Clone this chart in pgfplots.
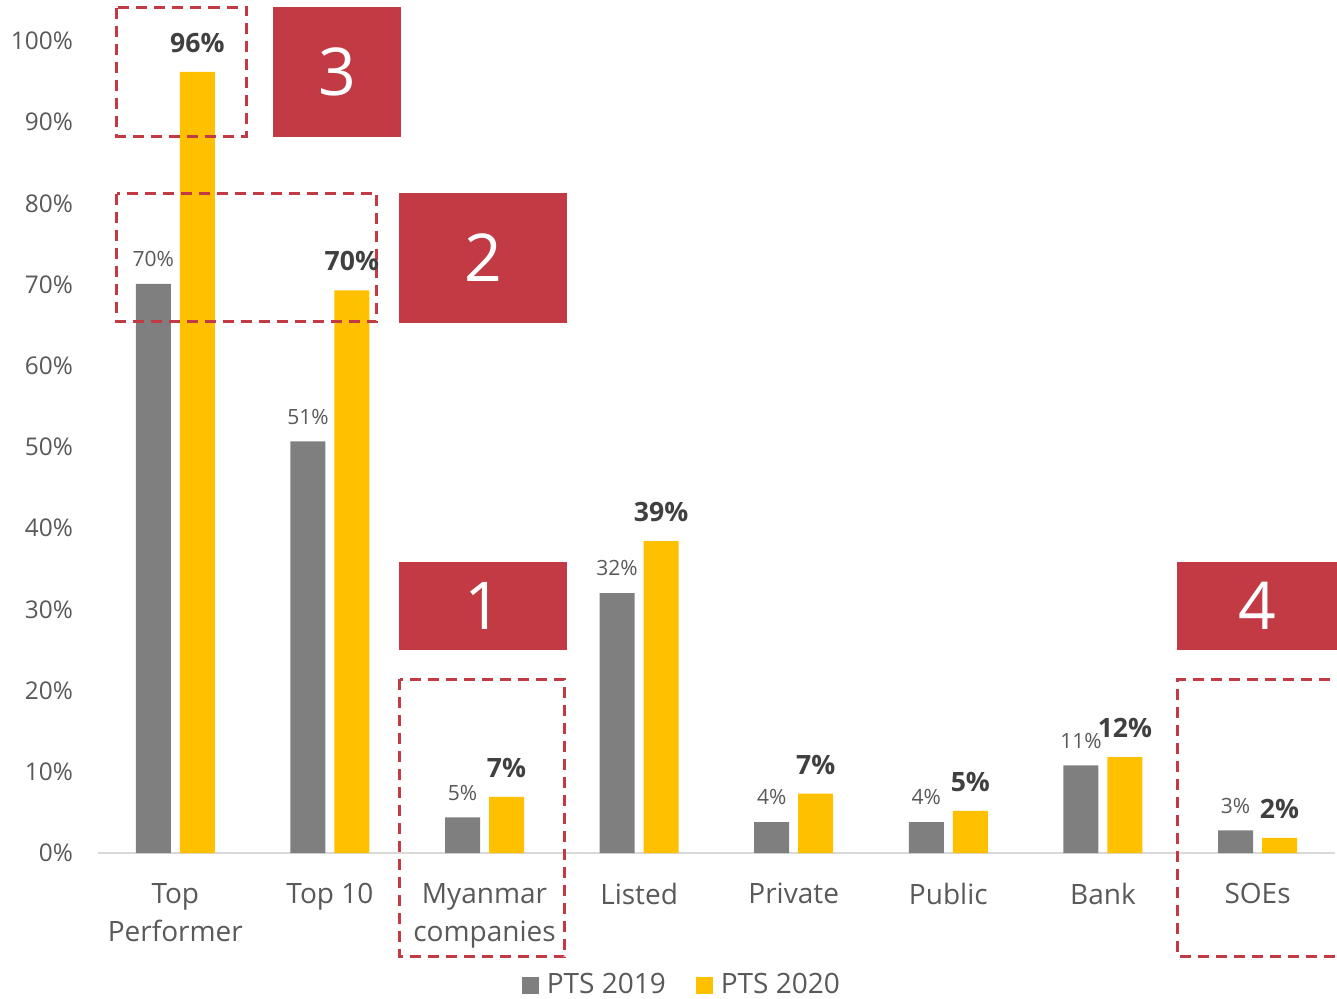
\documentclass[border=0pt]{standalone}
\usepackage{pgfplots}
\pgfplotsset{compat=1.18}
\usepackage{fontspec}
\setmainfont{Open Sans}
\definecolor{g19}{HTML}{7F7F7F}
\definecolor{y20}{HTML}{FFC000}
\definecolor{redbox}{HTML}{C13A44}
\definecolor{txt}{HTML}{595959}
\definecolor{dark}{HTML}{404040}
\definecolor{base}{HTML}{D9D9D9}

\begin{document}
\begin{tikzpicture}
\begin{axis}[
  scale only axis, width=619.5pt, height=426.3pt,
  xmin=-0.5, xmax=7.514, ymin=0, ymax=105,
  ybar, bar width=17.5pt, clip=false,
  axis line style={draw=none}, major tick length=0pt,
  xtick={0,...,7},
  xticklabels={{Top\\Performer},{Top 10},{Myanmar\\companies},Listed,Private,Public,Bank,SOEs},
  xticklabel style={align=center, yshift=-11.5pt, text=txt, font=\fontsize{14}{19}\selectfont},
  ytick={0,10,...,100},
  yticklabel={\pgfmathprintnumber{\tick}\%},
  yticklabel style={xshift=-9pt, text=txt, font=\fontsize{12.2}{14}\selectfont},
  /pgf/number format/assume math mode=true,
  legend style={draw=none, fill=none, at={(0.472,-0.155)}, anchor=center,
    legend columns=2, font=\fontsize{14}{16}\selectfont, text=txt,
    /tikz/every even column/.append style={column sep=13pt}},
  legend image code/.code={\fill[#1] (0pt,-4.25pt) rectangle (8.5pt,4.25pt);},
]
\draw[base, line width=1.2pt] (axis cs:-0.5,0) -- (axis cs:7.5,0);
\addplot[fill=g19, draw=none, bar shift=-11pt, point meta=explicit symbolic,
  nodes near coords={\pgfplotspointmeta\%},
  every node near coord/.append style={text=txt, font=\fontsize{10.5}{12}\selectfont, yshift=5pt}]
  coordinates {(0,70.1) [70] (1,50.7) [51] (2,4.4) [5] (3,32.0) [32] (4,3.8) [4] (5,3.8) [4] (6,10.8) [11] (7,2.8) [3]};
\addplot[fill=y20, draw=none, bar shift=11pt, point meta=explicit symbolic,
  nodes near coords={\textbf{\pgfplotspointmeta\%}},
  every node near coord/.append style={text=dark, font=\fontsize{13.3}{15}\selectfont, yshift=6pt}]
  coordinates {(0,96.2) [96] (1,69.3) [70] (2,6.9) [7] (3,38.4) [39] (4,7.3) [7] (5,5.2) [5] (6,11.8) [12] (7,1.85) [2]};
\legend{\hspace{2pt}PTS 2019, \hspace{2pt}PTS 2020}
% red number boxes
\fill[redbox] (axis cs:0.632,104.2) rectangle (axis cs:1.460,88.2);
\node[text=white, font=\fontsize{33}{40}\selectfont] at (axis cs:1.046,96.2) {3};
\fill[redbox] (axis cs:1.446,81.3) rectangle (axis cs:2.533,65.3);
\node[text=white, font=\fontsize{33}{40}\selectfont] at (axis cs:1.99,73.3) {2};
\fill[redbox] (axis cs:1.446,35.8) rectangle (axis cs:2.533,25.0);
\node[text=white, font=\fontsize{33}{40}\selectfont] at (axis cs:1.99,30.4) {1};
\fill[redbox] (axis cs:6.479,35.8) rectangle (axis cs:7.514,25.0);
\node[text=white, font=\fontsize{33}{40}\selectfont] at (axis cs:6.997,30.4) {4};
% dashed frames
\begin{scope}[redbox, line width=1.5pt, dash pattern=on 5.5pt off 3.5pt]
\draw (axis cs:-0.378,104.1) rectangle (axis cs:0.463,88.3);
\draw (axis cs:-0.378,81.2) rectangle (axis cs:1.304,65.4);
\draw (axis cs:1.452,21.4) rectangle (axis cs:2.520,-12.8);
\draw (axis cs:7.7,21.4) -- (axis cs:6.485,21.4) -- (axis cs:6.485,-12.8) -- (axis cs:7.7,-12.8);
\end{scope}
\end{axis}
\pgfresetboundingbox
\useasboundingbox (-49pt,-72.5pt) rectangle (619.5pt,426.5pt);
\end{tikzpicture}
\end{document}
